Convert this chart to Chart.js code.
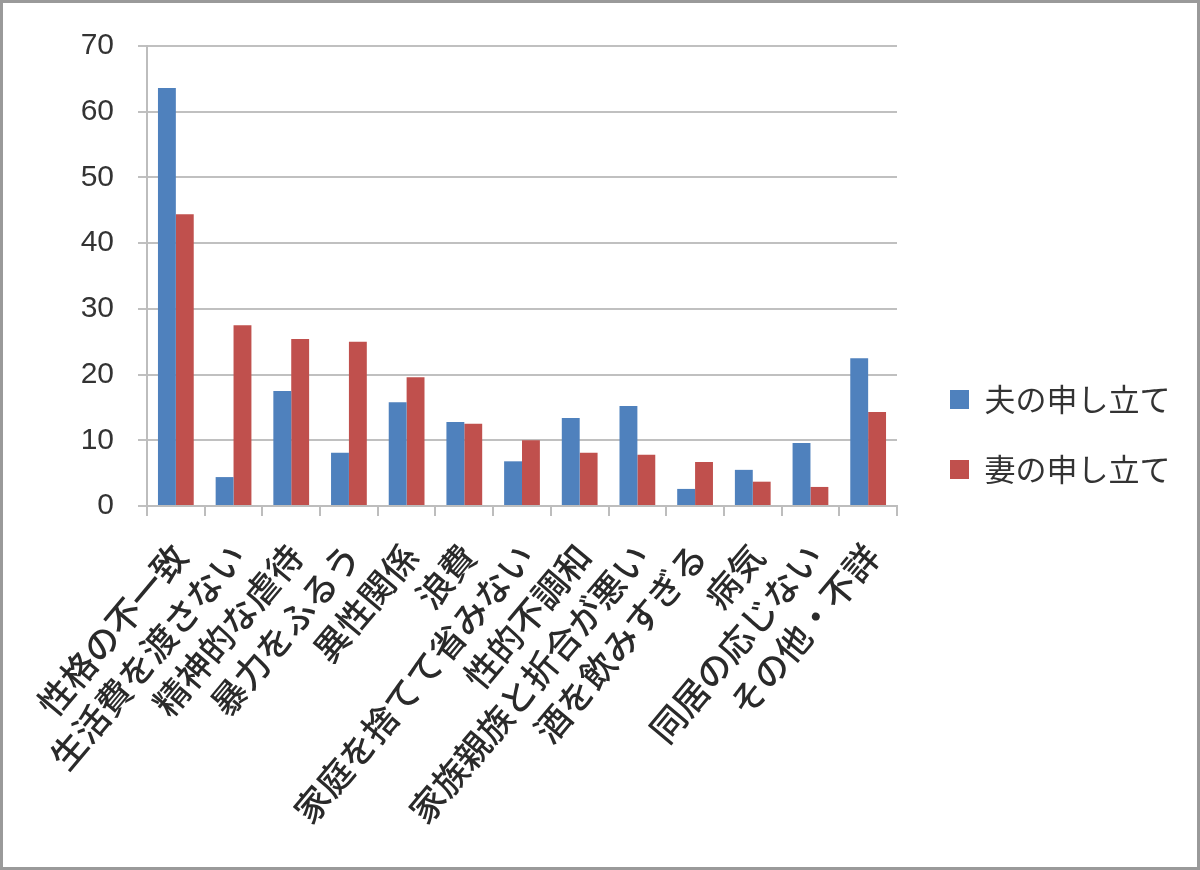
<!DOCTYPE html>
<html>
<head>
<meta charset="utf-8">
<script src="https://cdn.jsdelivr.net/npm/chart.js@4.4.1/dist/chart.umd.min.js"></script>
<style>
  body { margin: 0; background: #fff; }
  #wrap { width: 1200px; height: 870px; box-sizing: border-box; border: 3px solid #9a9a9a; background: #fff; }
</style>
</head>
<body>
<div id="wrap"><canvas id="graph"></canvas></div>
<script>
// 申し立ての動機（割合）
const categories = ['性格の不一致', '生活費を渡さない', '精神的な虐待', '暴力をふるう', '異性関係', '浪費',
  '家庭を捨てて省みない', '性的不調和', '家族親族と折合が悪い', '酒を飲みすぎる', '病気', '同居の応じない', 'その他・不詳'];
const husband = [63.6, 4.4, 17.5, 8.1, 15.8, 12.8, 6.8, 13.4, 15.2, 2.6, 5.5, 9.6, 22.5];
const wife = [44.4, 27.5, 25.4, 25.0, 19.6, 12.5, 10.0, 8.1, 7.8, 6.7, 3.7, 2.9, 14.3];
const seriesNames = ['夫の申し立て', '妻の申し立て'];
const yMax = 70;
const yStep = 10;

const jp = '"Noto Sans CJK JP", "Noto Sans", sans-serif';

// legend a droite, place a la main apres le layout
const legendPlace = {
  id: 'legendPlace',
  afterInit(chart) {
    const fit = chart.legend.fit.bind(chart.legend);
    chart.legend.fit = function () { fit(); this.width = 300; };
  },
  afterLayout(chart) {
    const lg = chart.legend;
    lg.left = chart.chartArea.right + 14;
    lg.right = lg.left + 286;
    lg.top = 342;
    lg.bottom = lg.top + 300;
  }
};

new Chart(document.getElementById('graph'), {
  type: 'bar',
  data: {
    labels: categories,
    datasets: [
      { label: seriesNames[0], data: husband, backgroundColor: '#4F81BD', borderWidth: 0 },
      { label: seriesNames[1], data: wife, backgroundColor: '#C0504D', borderWidth: 0 }
    ]
  },
  options: {
    responsive: true,
    maintainAspectRatio: false,
    animation: false,
    layout: { padding: { top: 43, left: 0, right: 0, bottom: 0 } },
    datasets: { bar: { categoryPercentage: 0.62, barPercentage: 1 } },
    scales: {
      x: {
        afterFit(scale) { scale.height = 361; },
        grid: { drawOnChartArea: false, color: '#bdbdbd', lineWidth: 2, tickLength: 10 },
        border: { color: '#bdbdbd', width: 2 },
        ticks: {
          minRotation: 50, maxRotation: 50, autoSkip: false, padding: 20, labelOffset: 4,
          color: '#2a2a2a', font: { family: jp, size: 35, weight: '500' }
        }
      },
      y: {
        min: 0, max: yMax,
        afterFit(scale) { scale.width = 144; },
        grid: { color: '#c0c0c0', lineWidth: 2, tickLength: 9 },
        border: { color: '#bdbdbd', width: 2 },
        ticks: { stepSize: yStep, padding: 24, color: '#333', font: { family: 'Liberation Sans, sans-serif', size: 30 } }
      }
    },
    plugins: {
      legend: {
        position: 'right',
        align: 'start',
        labels: { boxWidth: 19, boxHeight: 19, padding: 39, color: '#333', font: { family: jp, size: 31 } }
      },
      tooltip: { enabled: false }
    }
  },
  plugins: [legendPlace]
});
</script>
</body>
</html>
